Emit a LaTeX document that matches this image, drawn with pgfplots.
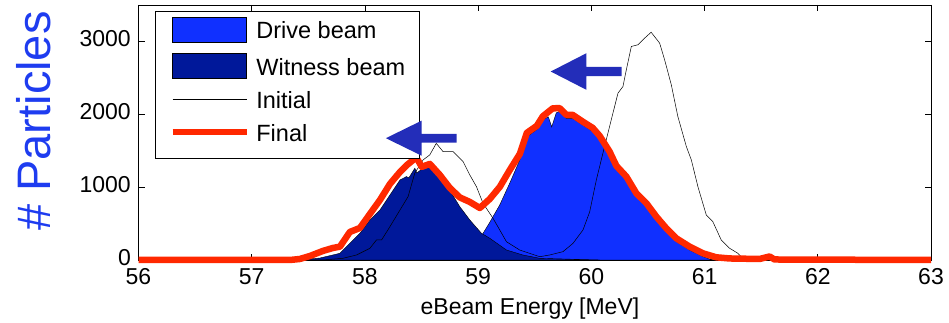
\documentclass[border=0pt]{standalone}
\usepackage{pgfplots}
\pgfplotsset{compat=1.18}
\usepackage{fontspec}
\setmainfont{Liberation Sans}
\definecolor{drive}{RGB}{16,48,255}
\definecolor{witness}{RGB}{0,24,154}
\definecolor{finalred}{RGB}{255,40,0}
\definecolor{arrowblue}{RGB}{35,45,185}
\definecolor{ylab}{RGB}{30,60,240}
\pgfplotsset{
  patchlegend/.style={legend image code/.code={\draw[##1] (0pt,-7.5pt) rectangle (74pt,18pt);}},
  linelegend/.style={legend image code/.code={\draw[##1] (0pt,5.3pt) -- (74pt,5.3pt);}},
}
\begin{document}
\begin{tikzpicture}
\useasboundingbox (0,0) rectangle (949pt,323pt);
\begin{axis}[
  at={(138.5pt,63pt)}, anchor=south west,
  scale only axis, width=792.5pt, height=255pt,
  xmin=56, xmax=63, ymin=0, ymax=3500,
  xtick={56,57,...,63}, ytick={0,1000,2000,3000},
  tick align=inside, major tick length=6pt,
  axis line style={line width=0.9pt},
  every tick/.style={black, line width=0.8pt},
  clip=false,
  font=\fontsize{23}{27}\selectfont,
  /pgf/number format/assume math mode=true,
  /pgf/number format/1000 sep={},
  scaled ticks=false,
  xticklabel style={anchor=base, inner sep=0pt, yshift=-25pt},
  yticklabel style={inner sep=0pt, xshift=-7.5pt, yshift=2.5pt},
  xlabel={eBeam Energy [MeV]},
  xlabel style={at={(axis description cs:0.494,0)}, anchor=base, yshift=-54.5pt},
  ylabel={\# Particles},
  ylabel style={at={(axis description cs:-0.132,0.545)}, anchor=center, font=\fontsize{47}{50}\selectfont, color=ylab},
  legend cell align=left,
  legend style={at={(axis description cs:0.0208,0.978)}, anchor=north west,
    draw=black, line width=0.8pt, fill=white, inner xsep=14pt, inner ysep=5.5pt,
    row sep=3.2pt, column sep=6.5pt, font=\fontsize{23.5}{27}\selectfont,
    nodes={inner sep=0pt, text height=19pt, text depth=11pt}},
]
\addplot[fill=drive, draw=black, line width=0.4pt, patchlegend]
coordinates {(58.70,0) (58.85,30) (58.95,120) (59.029,330) (59.10,510) (59.191,756) (59.280,1058) (59.368,1374) (59.430,1690) (59.518,1790) (59.571,1924) (59.620,1965) (59.650,1827) (59.690,2020) (59.720,2040) (59.779,1944) (59.835,1944) (59.923,1855) (60.011,1766) (60.073,1656) (60.161,1443) (60.221,1243) (60.309,1099) (60.397,872) (60.486,735) (60.574,550) (60.662,392) (60.750,254) (60.868,137) (60.985,48) (61.05,10) (61.10,0)} \closedcycle;
\addlegendentry{Drive beam}
\addplot[fill=witness, draw=black, line width=0.4pt, patchlegend]
coordinates {(57.40,0) (57.602,27) (57.779,92) (57.867,229) (57.956,367) (58.044,550) (58.133,687) (58.221,893) (58.310,1099) (58.367,1145) (58.388,1127) (58.441,1260) (58.458,1195) (58.514,1260) (58.573,1282) (58.661,1127) (58.750,955) (58.838,732) (58.926,550) (59.029,367) (59.103,298) (59.250,137) (59.394,69) (59.544,23) (59.835,10) (60.073,0)} \closedcycle;
\addlegendentry{Witness beam}
\addplot[black, line width=0.5pt, linelegend]
coordinates {(56,0) (57.628,0) (57.805,23) (57.926,69) (58.044,161) (58.102,275) (58.147,275) (58.221,458) (58.310,687) (58.381,870) (58.440,1191) (58.514,1374) (58.573,1443) (58.630,1601) (58.690,1488) (58.778,1488) (58.867,1351) (58.926,1168) (58.985,1007) (59.043,779) (59.131,573) (59.191,412) (59.250,251) (59.367,137) (59.544,45) (59.632,69) (59.749,114) (59.838,229) (59.926,412) (59.985,660) (60.044,1099) (60.102,1466) (60.161,1832) (60.235,2290) (60.279,2381) (60.309,2611) (60.353,2931) (60.411,2954) (60.471,3046) (60.528,3126) (60.603,2977) (60.647,2748) (60.706,2405) (60.764,1969) (60.839,1557) (60.883,1374) (60.941,1007) (61.015,618) (61.073,526) (61.147,275) (61.221,161) (61.294,92) (61.338,23) (61.380,0) (63,0)};
\addlegendentry{Initial}
\addplot[finalred, line width=6.5pt, line join=round, linelegend]
coordinates {(56.00,0) (57.337,0) (57.425,14) (57.514,55) (57.628,124) (57.717,165) (57.779,183) (57.867,385) (57.956,440) (58.044,632) (58.133,824) (58.221,1044) (58.310,1209) (58.372,1305) (58.416,1360) (58.454,1408) (58.502,1278) (58.573,1319) (58.661,1168) (58.750,989) (58.838,859) (58.926,797) (59.015,714) (59.103,838) (59.191,1003) (59.280,1237) (59.368,1456) (59.430,1745) (59.518,1841) (59.571,1972) (59.659,2082) (59.720,2084) (59.779,1992) (59.835,1992) (59.923,1900) (60.011,1814) (60.073,1704) (60.161,1488) (60.221,1292) (60.309,1145) (60.397,916) (60.486,779) (60.574,595) (60.662,435) (60.750,298) (60.868,183) (60.985,92) (61.103,37) (61.221,21) (61.485,14) (61.574,48) (61.618,7) (63.00,0)};
\addlegendentry{Final}
\coordinate (a1) at (axis cs:58.185,1672);
\coordinate (a2) at (axis cs:59.641,2587);
\end{axis}
\fill[arrowblue] (a1) -- ++(35.7pt,17.5pt) -- ++(0,-13.15pt) -- ++(35pt,0) -- ++(0,-8.7pt) -- ++(-35pt,0) -- ++(0,-13.15pt) -- cycle;
\fill[arrowblue] (a2) -- ++(35.7pt,18.3pt) -- ++(0,-13.65pt) -- ++(35.3pt,0) -- ++(0,-9.3pt) -- ++(-35.3pt,0) -- ++(0,-13.65pt) -- cycle;
\end{tikzpicture}
\end{document}
